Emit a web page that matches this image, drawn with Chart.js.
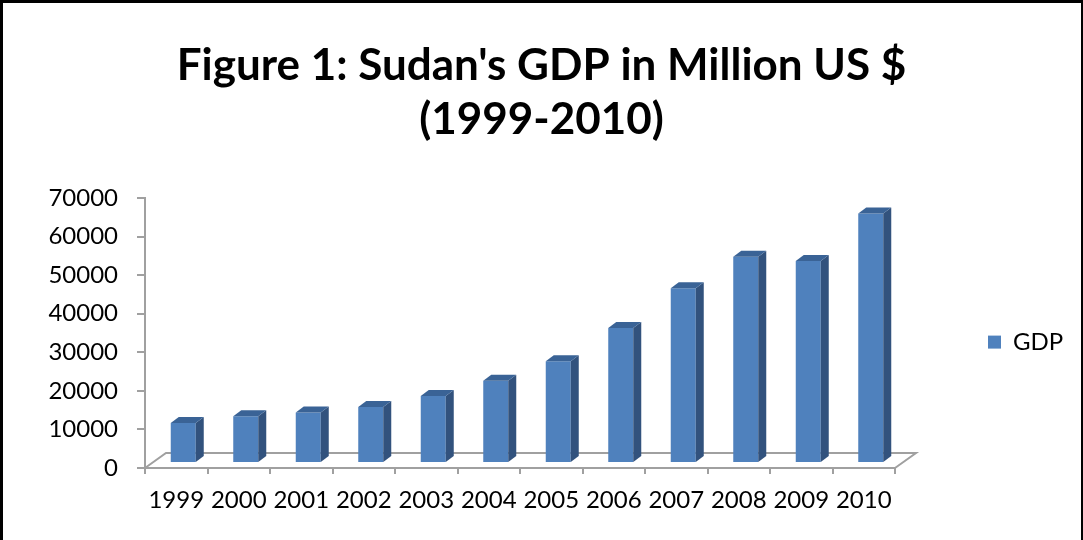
<!DOCTYPE html>
<html>
<head>
<meta charset="utf-8">
<script src="https://cdn.jsdelivr.net/npm/chart.js@4"></script>
<style>
    body { margin: 0; background: #fff; }
    #wrap { position: relative; width: 1083px; height: 540px; }
    #frame {
        position: absolute; left: 0; top: 0;
        width: 1078px; height: 540px;
        border-left: 3px solid #000; border-top: 3px solid #000; border-right: 2px solid #000;
        pointer-events: none;
    }
</style>
</head>
<body>
<div id="wrap">
    <canvas id="gdp-chart"></canvas>
    <div id="frame"></div>
</div>
<script>
    // Sudan GDP, million US $
    const years = ['1999', '2000', '2001', '2002', '2003', '2004', '2005', '2006', '2007', '2008', '2009', '2010'];
    const gdp = [10400, 12100, 13100, 14500, 17400, 21300, 26400, 35000, 45300, 53500, 52400, 64700];
    const seriesName = 'GDP';
    const titleLines = ["Figure 1: Sudan's GDP in Million US $", '(1999-2010)'];

    const frontColor = '#4F81BD';
    const sideColor = '#32527D';
    const topColor = '#3A6396';
    const axisColor = '#A0A0A0';

    // 3d look: bars sit a bit back on the floor, floor has depth
    const barShift = { x: 7, y: -5 };
    const barDepth = { x: 8, y: -6 };
    const floorDepth = { x: 21, y: -15 };

    const fake3d = {
        id: 'fake3d',
        beforeDatasetsDraw: function (chart) {
            const ctx = chart.ctx;
            const a = chart.chartArea;
            ctx.save();
            ctx.strokeStyle = axisColor;
            ctx.lineWidth = 2;
            ctx.beginPath();
            ctx.moveTo(a.left, a.bottom);
            ctx.lineTo(a.left + floorDepth.x, a.bottom + floorDepth.y);
            ctx.lineTo(a.right + floorDepth.x, a.bottom + floorDepth.y);
            ctx.lineTo(a.right, a.bottom);
            ctx.stroke();
            ctx.restore();

            ctx.save();
            ctx.translate(barShift.x, barShift.y);
        },
        afterDatasetsDraw: function (chart) {
            const ctx = chart.ctx;
            ctx.restore();
            const meta = chart.getDatasetMeta(0);
            ctx.save();
            meta.data.forEach(function (bar) {
                const p = bar.getProps(['x', 'y', 'base', 'width'], true);
                const left = p.x - p.width / 2 + barShift.x;
                const right = p.x + p.width / 2 + barShift.x;
                const top = p.y + barShift.y;
                const bottom = p.base + barShift.y;

                ctx.fillStyle = sideColor;
                ctx.beginPath();
                ctx.moveTo(right, top);
                ctx.lineTo(right + barDepth.x, top + barDepth.y);
                ctx.lineTo(right + barDepth.x, bottom + barDepth.y);
                ctx.lineTo(right, bottom);
                ctx.closePath();
                ctx.fill();

                ctx.fillStyle = topColor;
                ctx.beginPath();
                ctx.moveTo(left, top);
                ctx.lineTo(left + barDepth.x, top + barDepth.y);
                ctx.lineTo(right + barDepth.x, top + barDepth.y);
                ctx.lineTo(right, top);
                ctx.closePath();
                ctx.fill();
            });
            ctx.restore();
        }
    };

    Chart.defaults.font.family = 'Lato';
    Chart.defaults.color = '#000';

    const sidePad = 18;

    new Chart(document.getElementById('gdp-chart'), {
        type: 'bar',
        data: {
            labels: years,
            datasets: [{
                label: seriesName,
                data: gdp,
                backgroundColor: frontColor,
                borderWidth: 0,
                barPercentage: 0.4,
                categoryPercentage: 1
            }]
        },
        options: {
            responsive: true,
            maintainAspectRatio: false,
            animation: false,
            layout: { padding: { left: sidePad, right: sidePad, top: 0, bottom: 0 } },
            plugins: {
                title: {
                    display: true,
                    text: titleLines,
                    color: '#000',
                    font: { family: 'Lato', size: 44, weight: 'bold', lineHeight: 1.2273 },
                    padding: { top: 39, bottom: 51 }
                },
                legend: {
                    position: 'right',
                    align: 'center',
                    fullSize: false,
                    maxWidth: 170,
                    title: { display: true, text: '', font: { size: 1 }, padding: { top: 8, bottom: 9 } },
                    labels: {
                        boxWidth: 13,
                        boxHeight: 13,
                        padding: 93,
                        font: { size: 24 }
                    }
                },
                tooltip: { enabled: false }
            },
            scales: {
                x: {
                    afterFit: function (scale) { scale.height = 72; },
                    grid: {
                        offset: true,
                        drawOnChartArea: false,
                        drawTicks: true,
                        tickLength: 6,
                        color: axisColor,
                        lineWidth: 2
                    },
                    border: { display: true, color: axisColor, width: 2 },
                    ticks: { font: { size: 24 }, padding: 12, maxRotation: 0 }
                },
                y: {
                    min: 0,
                    max: 70000,
                    afterFit: function (scale) { scale.width = 145 - sidePad; },
                    grid: {
                        drawOnChartArea: false,
                        drawTicks: true,
                        tickLength: 8,
                        color: axisColor,
                        lineWidth: 2
                    },
                    border: { display: true, color: axisColor, width: 2 },
                    ticks: {
                        stepSize: 10000,
                        padding: 19,
                        font: { size: 24 },
                        callback: function (v) { return v; }
                    }
                }
            }
        },
        plugins: [fake3d]
    });
</script>
</body>
</html>
